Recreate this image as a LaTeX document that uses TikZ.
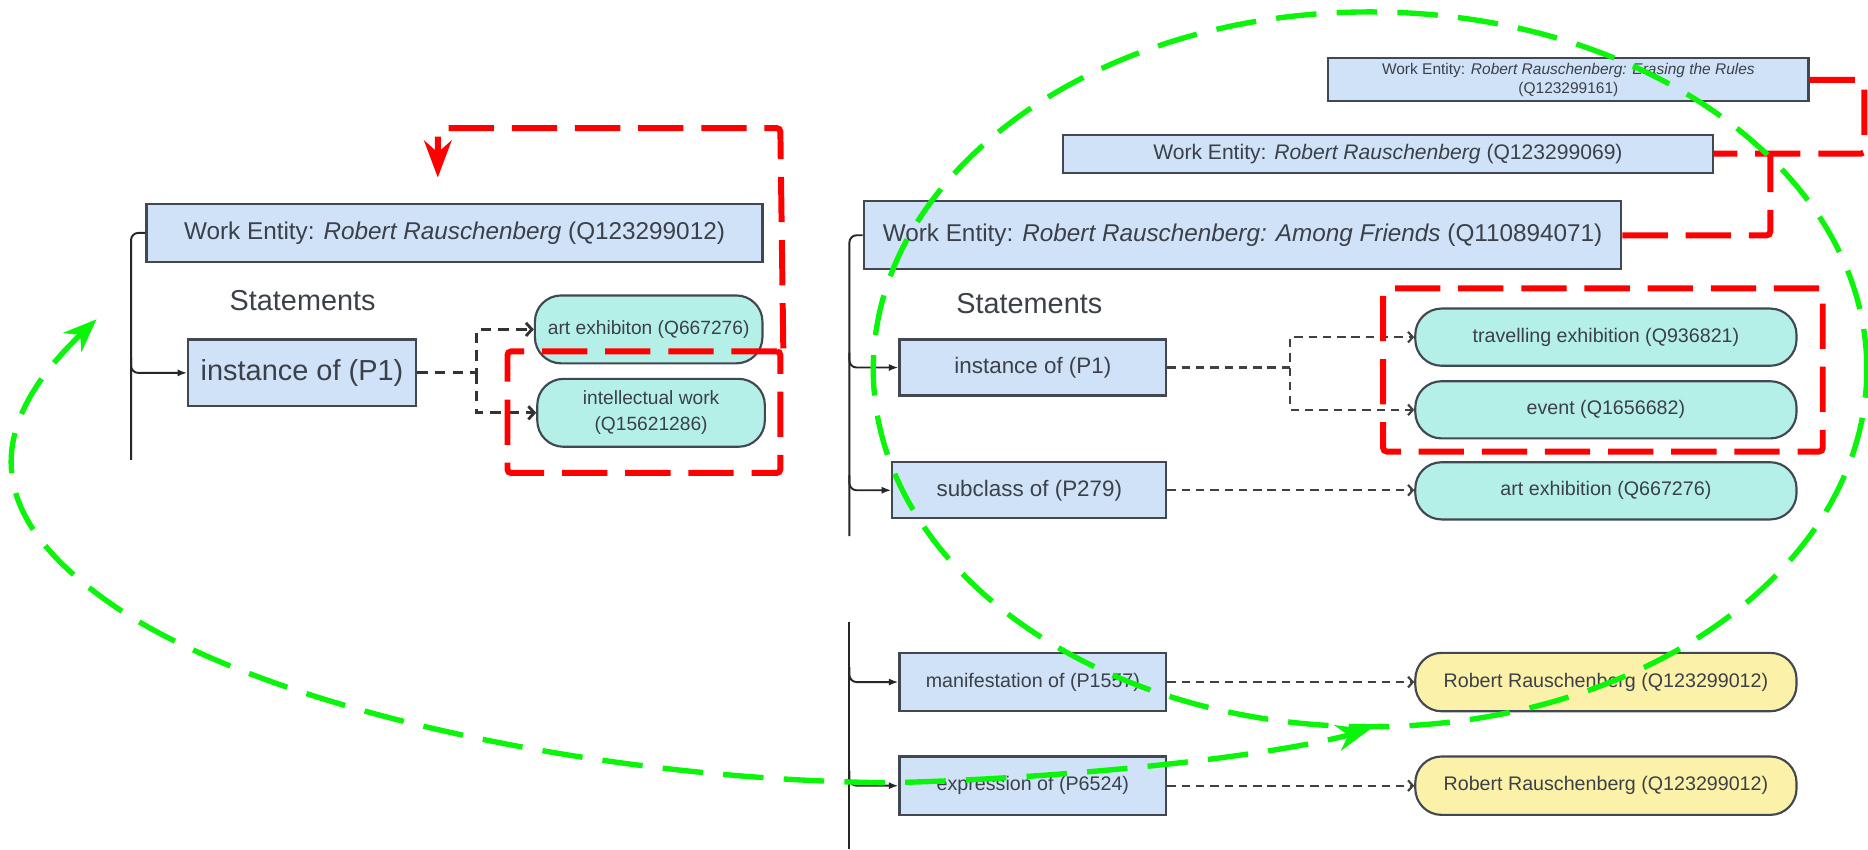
\documentclass[tikz,border=0pt]{standalone}
\usepackage{fontspec}
\setmainfont{Liberation Sans}
\usetikzlibrary{arrows.meta,shapes.geometric,calc}
\definecolor{boxblue}{RGB}{207,226,248}
\definecolor{boxteal}{RGB}{180,240,231}
\definecolor{boxyellow}{RGB}{252,241,168}
\definecolor{edgecol}{RGB}{66,72,82}
\definecolor{txtcol}{RGB}{60,64,72}
\definecolor{gline}{RGB}{10,245,10}
\definecolor{rline}{RGB}{255,0,0}
\tikzset{
  ent/.style={draw=edgecol, line width=1.8pt, fill=boxblue, text=txtcol, inner sep=0pt, align=center},
  val/.style={draw=edgecol, line width=1.8pt, fill=boxteal, text=txtcol, inner sep=0pt, rounded corners=22pt, align=center},
  yval/.style={val, fill=boxyellow},
  stmt/.style={text=txtcol, inner sep=0pt, font=\fontsize{24.2}{28}\selectfont},
  spine/.style={draw=black!85, line width=1.6pt, rounded corners=6pt},
  spinearrow/.style={spine, -{Latex[length=8pt,width=6pt]}},
  dcon/.style={draw=black!75, line width=1.8pt, dash pattern=on 7pt off 5pt, -{Straight Barb[length=4pt,width=9pt]}},
  dconL/.style={draw=black!80, line width=2.4pt, dash pattern=on 9pt off 6pt, -{Straight Barb[length=5pt,width=11pt]}},
  redbox/.style={draw=rline, line width=5pt, dash pattern=on 38pt off 15pt, rounded corners=3pt, inner sep=0pt},
  redpath/.style={draw=rline, line width=5pt, dash pattern=on 38pt off 15pt, rounded corners=3pt},
  greendash/.style={draw=gline, line width=4.5pt, dash pattern=on 34pt off 17pt},
}
\begin{document}
\begin{tikzpicture}[x=1pt,y=-1pt]
\fill[white] (0,0) rectangle (1568,713);
\useasboundingbox (0,0) rectangle (1568,713);

% ---------------- left part ----------------
\node[ent, minimum width=517pt, minimum height=49pt, font=\fontsize{20.4}{24}\selectfont] (wL) at (381.5,195.5)
  {Work Entity: \textit{Robert Rauschenberg} (Q123299012)};
\node[stmt] (stL) at (254,252) {Statements};
\node[ent, minimum width=191pt, minimum height=56pt, font=\fontsize{24.3}{28}\selectfont] (iL) at (253.5,313) {instance of (P1)};
\node[val, minimum width=191pt, minimum height=57pt, font=\fontsize{16.1}{20}\selectfont] (aL) at (544.5,276.5) {art exhibiton (Q667276)};
\node[val, minimum width=191pt, minimum height=57pt, font=\fontsize{16.1}{22}\selectfont] (wkL) at (546.5,346.5) {intellectual work\\(Q15621286)};

\coordinate (sLbot) at (110,386);
\coordinate (bL1) at (110,300);
\draw[spine] (wL.west) -| (sLbot);
\draw[spinearrow] (bL1) |- (iL.west);
\coordinate (jL) at (400,313);
\draw[dconL] (iL.east) -- (jL) |- (aL.west);
\draw[dconL] (jL) |- (wkL.west);

% ---------------- right part ----------------
\node[ent, minimum width=403pt, minimum height=36pt, font=\fontsize{13}{16}\selectfont] (er) at (1316.5,67)
  {Work Entity: \textit{Robert Rauschenberg: Erasing the Rules}\\(Q123299161)};
\node[ent, minimum width=546pt, minimum height=32pt, font=\fontsize{17.7}{21}\selectfont] (q69) at (1165,129)
  {Work Entity: \textit{Robert Rauschenberg} (Q123299069)};
\node[ent, minimum width=636pt, minimum height=57pt, font=\fontsize{20.4}{24}\selectfont] (af) at (1043,197.5)
  {Work Entity: \textit{Robert Rauschenberg: Among Friends} (Q110894071)};
\node[stmt] (stR) at (864,255) {Statements};

\node[ent, minimum width=224pt, minimum height=47pt, font=\fontsize{18.8}{22}\selectfont] (iR) at (867,308.5) {instance of (P1)};
\node[ent, minimum width=230pt, minimum height=47pt, font=\fontsize{18.8}{22}\selectfont] (sR) at (864,411.5) {subclass of (P279)};
\node[ent, minimum width=224pt, minimum height=49pt, font=\fontsize{16.5}{20}\selectfont] (mR) at (867,572.5) {manifestation of (P1557)};
\node[ent, minimum width=224pt, minimum height=49pt, font=\fontsize{16.5}{20}\selectfont] (xR) at (867,659.5) {expression of (P6524)};

\node[val, minimum width=320pt, minimum height=48pt, font=\fontsize{16.5}{20}\selectfont] (tE) at (1348,283) {travelling exhibition (Q936821)};
\node[val, minimum width=320pt, minimum height=48pt, font=\fontsize{16.5}{20}\selectfont] (ev) at (1348,344) {event (Q1656682)};
\node[val, minimum width=320pt, minimum height=48pt, font=\fontsize{16.5}{20}\selectfont] (ae) at (1348,412) {art exhibition (Q667276)};
\node[yval, minimum width=320pt, minimum height=49pt, font=\fontsize{16.5}{20}\selectfont] (r1) at (1348,572.5) {Robert Rauschenberg (Q123299012)};
\node[yval, minimum width=320pt, minimum height=49pt, font=\fontsize{16.5}{20}\selectfont] (r2) at (1348,659.5) {Robert Rauschenberg (Q123299012)};

\coordinate (sR1bot) at (713,450);
\coordinate (sR2top) at (713,522);
\coordinate (sR2bot) at (713,713);
\coordinate (bR1) at (713,296);
\coordinate (bR2) at (713,399);
\coordinate (bR3) at (713,560);
\coordinate (bR4) at (713,647);
\draw[spine] (af.west) -| (sR1bot);
\draw[spine] (sR2top) -- (sR2bot);
\draw[spinearrow] (bR1) |- (iR.west);
\draw[spinearrow] (bR2) |- (sR.west);
\draw[spinearrow] (bR3) |- (mR.west);
\draw[spinearrow] (bR4) |- (xR.west);

\coordinate (jR) at (1083,308.5);
\draw[dcon] (iR.east) -- (jR) |- (tE.west);
\draw[dcon] (jR) |- (ev.west);
\draw[dcon] (sR.east) -- (sR.east -| ae.west);
\draw[dcon] (mR.east) -- (r1.west);
\draw[dcon] (xR.east) -- (r2.west);

% ---------------- red highlights ----------------
\node[redbox, minimum width=229pt, minimum height=102pt] (rL) at (540.5,346) {};
\coordinate (rLc) at (655,107.5);
\coordinate (rLtip) at (367.5,149);
\draw[redpath, -{Stealth[length=31pt,width=23pt]}] (rL.north east) -- (rLc) -| (rLtip);

\node[redbox, minimum width=369pt, minimum height=137pt] (rR) at (1345.5,310.5) {};
\coordinate (rA) at (1565,129);
\coordinate (rB) at (1486,129);
\draw[redpath] (er.east) -| (rA) -- (q69.east);
\draw[redpath] (af.east) -| (rB);

% ---------------- green highlights ----------------
\node[ellipse, greendash, minimum width=834pt, minimum height=600pt, inner sep=0pt] (gE) at (1150,310) {};
\coordinate (gA) at (81,268);
\draw[greendash, {Stealth[length=28pt,width=22pt]}-{Stealth[length=28pt,width=22pt]}]
  (gA) .. controls (-13,358) and (-15,431) .. (92,506)
       .. controls (215,593) and (497,655) .. (747,657)
       .. controls (877,654) and (1052,638) .. (gE.south);
\end{tikzpicture}
\end{document}
